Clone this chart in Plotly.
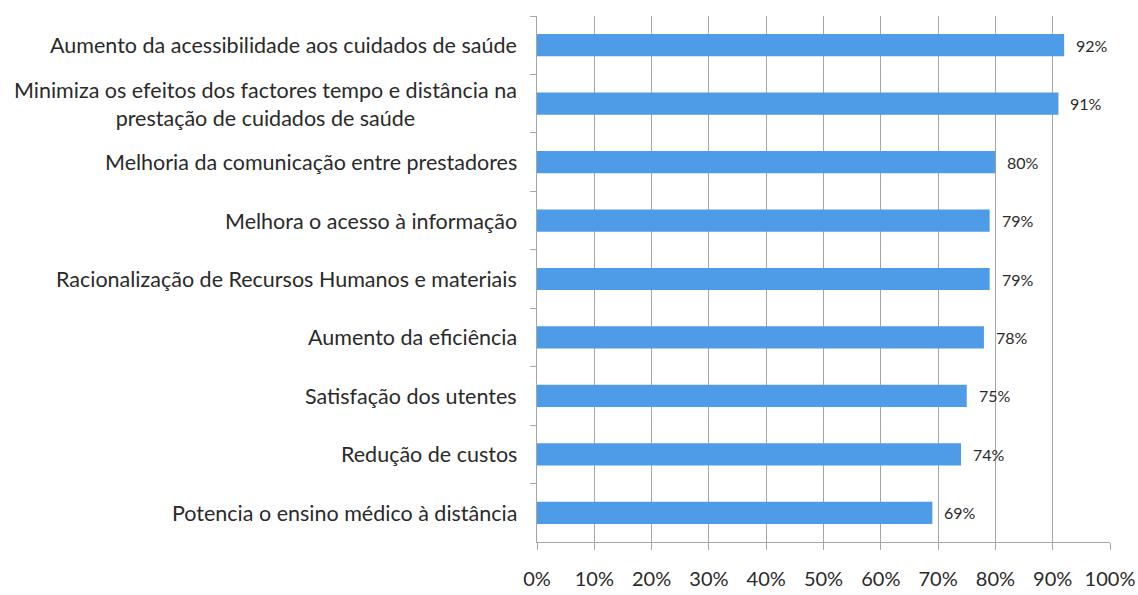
import plotly.graph_objects as go

# Benefits of telemedicine, share of respondents (%)
categories = [
    "Aumento da acessibilidade aos cuidados de saúde",
    "Minimiza os efeitos dos factores tempo e distância na<br>prestação de cuidados de saúde",
    "Melhoria da comunicação entre prestadores",
    "Melhora o acesso à informação",
    "Racionalização de Recursos Humanos e materiais",
    "Aumento da eficiência",
    "Satisfação dos utentes",
    "Redução de custos",
    "Potencia o ensino médico à distância",
]
values = [92, 91, 80, 79, 79, 78, 75, 74, 69]
x_ticks = [0, 10, 20, 30, 40, 50, 60, 70, 80, 90, 100]
x_tick_labels = [f"{t}%" for t in x_ticks]

BAR_COLOR = "#4e9be8"
TEXT_COLOR = "#2a2a2a"
GRID_COLOR = "#a6a6a6"
FONT = "Lato, 'Open Sans', sans-serif"

fig = go.Figure(
    go.Bar(
        x=values,
        y=categories,
        orientation="h",
        marker=dict(color=BAR_COLOR, line=dict(width=0)),
        width=0.38,
        hoverinfo="x+y",
    )
)

# Category labels (centred multi-line text, right-aligned against the axis)
for cat in categories:
    fig.add_annotation(
        x=0, xref="paper", y=cat, yref="y",
        text=cat, showarrow=False,
        xanchor="right", yanchor="middle", align="center",
        xshift=-18,
        font=dict(family=FONT, size=21.5, color=TEXT_COLOR),
    )

# Value labels just past each bar end
for cat, v in zip(categories, values):
    fig.add_annotation(
        x=v, xref="x", y=cat, yref="y",
        text=f"{v}%", showarrow=False,
        xanchor="left", yanchor="middle",
        xshift=10,
        font=dict(family=FONT, size=16, color=TEXT_COLOR),
    )

fig.update_layout(
    width=1138,
    height=595,
    margin=dict(l=537, r=28, t=16, b=53),
    paper_bgcolor="white",
    plot_bgcolor="white",
    showlegend=False,
    font=dict(family=FONT, color=TEXT_COLOR),
    xaxis=dict(
        range=[0, 100],
        tickvals=x_ticks,
        ticktext=x_tick_labels,
        showgrid=True,
        gridcolor=GRID_COLOR,
        gridwidth=1,
        showline=True,
        linecolor=GRID_COLOR,
        linewidth=1,
        ticks="outside",
        ticklen=7,
        tickcolor=GRID_COLOR,
        ticklabelstandoff=12,
        tickfont=dict(family=FONT, size=20, color=TEXT_COLOR),
        zeroline=False,
        automargin=False,
        fixedrange=True,
    ),
    yaxis=dict(
        autorange="reversed",
        showticklabels=False,
        showline=True,
        linecolor=GRID_COLOR,
        linewidth=1,
        ticks="outside",
        ticklen=6,
        tickcolor=GRID_COLOR,
        tickson="boundaries",
        showgrid=False,
        automargin=False,
        fixedrange=True,
    ),
)

fig.write_html("out.html")
